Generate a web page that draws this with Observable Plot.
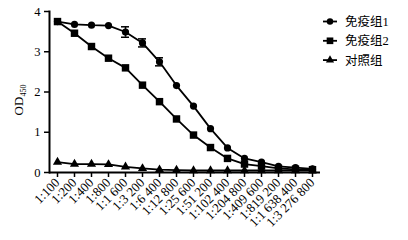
<!DOCTYPE html>
<html>
<head>
<meta charset="utf-8">
<script src="https://cdn.jsdelivr.net/npm/d3@7"></script>
<script src="https://cdn.jsdelivr.net/npm/@observablehq/plot@0.6"></script>
<style>
html,body{margin:0;padding:0;background:#fff;}
</style>
</head>
<body>
<div id="chart"></div>
<script>
const categories = ["1:100","1:200","1:400","1:800","1:1 600","1:3 200","1:6 400","1:12 800","1:25 600","1:51 200","1:102 400","1:204 800","1:409 600","1:819 200","1:1 638 400","1:3 276 800"];
const seriesNames = ["免疫组1","免疫组2","对照组"];
const group1 = [3.75,3.68,3.66,3.65,3.49,3.22,2.75,2.16,1.65,1.09,0.61,0.35,0.26,0.15,0.12,0.09];
const group2 = [3.75,3.46,3.13,2.84,2.60,2.17,1.76,1.33,0.93,0.62,0.35,0.21,0.16,0.10,0.08,0.07];
const control = [0.26,0.21,0.21,0.20,0.14,0.10,0.07,0.06,0.05,0.05,0.05,0.05,0.05,0.05,0.05,0.05];
const err1 = [0,0,0,0,0.13,0.10,0.10,0,0,0,0,0,0,0,0,0];
const yTicks = [0,1,2,3,4];

const seriesValues = [group1, group2, control];
const data = [];
seriesValues.forEach((vals, si) => vals.forEach((v, i) => data.push({series: seriesNames[si], cat: categories[i], v})));
const errData = categories.map((c, i) => ({cat: c, lo: group1[i] - err1[i], hi: group1[i] + err1[i], e: err1[i]})).filter(d => d.e > 0);

const font = "'Liberation Serif','Times New Roman',serif";

const plot = Plot.plot({
  width: 408,
  height: 240,
  marginLeft: 49,
  marginRight: 88,
  marginTop: 11,
  marginBottom: 68,
  style: {fontFamily: font, fontSize: "11px", background: "white", color: "black"},
  x: {type: "point", domain: categories, padding: 0.4, label: null},
  y: {domain: [0, 4], label: null},
  marks: [
    Plot.axisY({ticks: yTicks, tickFormat: d3.format("d"), tickSize: 5, tickPadding: 4, fontSize: 12.5, label: null, strokeWidth: 1.5}),
    Plot.axisX({tickSize: 5, tickRotate: -45, fontSize: 13, label: null, tickPadding: 3, strokeWidth: 1.5}),
    Plot.frame({anchor: "left", strokeWidth: 2}),
    Plot.ruleY([0], {strokeWidth: 2}),
    Plot.line(data, {x: "cat", y: "v", z: "series", stroke: "black", strokeWidth: 1.8}),
    Plot.ruleX(errData, {x: "cat", y1: "lo", y2: "hi", strokeWidth: 1.5}),
    Plot.ruleY(errData, {x1: "cat", x2: "cat", y: "lo", insetLeft: -4, insetRight: -4, strokeWidth: 1.5}),
    Plot.ruleY(errData, {x1: "cat", x2: "cat", y: "hi", insetLeft: -4, insetRight: -4, strokeWidth: 1.5}),
    Plot.dot(data.filter(d => d.series === seriesNames[0]), {x: "cat", y: "v", symbol: "circle", r: 3.6, fill: "black"}),
    Plot.dot(data.filter(d => d.series === seriesNames[1]), {x: "cat", y: "v", symbol: "square", r: 4.2, fill: "black"}),
    Plot.dot(data.filter(d => d.series === seriesNames[2]), {x: "cat", y: "v", symbol: "triangle", r: 3.4, fill: "black"})
  ]
});

document.getElementById("chart").appendChild(plot);

const svg = d3.select(plot);
// y-axis label OD450 with subscript
const lab = svg.append("text")
  .attr("transform", "translate(23,100) rotate(-90)")
  .attr("text-anchor", "middle")
  .attr("font-family", font)
  .attr("font-size", 13)
  .attr("fill", "black");
lab.append("tspan").text("OD");
lab.append("tspan").attr("font-size", 8).attr("dy", 3).text("450");

// legend
const symbols = [d3.symbolCircle, d3.symbolSquare, d3.symbolTriangle];
const sizes = [3.6, 4.2, 3.4].map(r => Math.PI * r * r);
const lg = svg.append("g").attr("text-anchor", "start");
seriesNames.forEach((name, i) => {
  const y = 21.5 + i * 19.3;
  const g = lg.append("g").attr("transform", `translate(0,${y})`);
  g.append("line").attr("x1", 323).attr("x2", 337).attr("stroke", "black").attr("stroke-width", 1.8);
  g.append("path").attr("transform", "translate(330,0)").attr("d", d3.symbol(symbols[i], sizes[i] * 0.8)()).attr("fill", "black");
  g.append("text").attr("x", 345).attr("dy", "0.36em").attr("text-anchor", "start")
    .attr("font-family", "'Liberation Serif','Noto Sans CJK SC',serif")
    .attr("font-size", 12.5).attr("fill", "black").text(name);
});
</script>
</body>
</html>
